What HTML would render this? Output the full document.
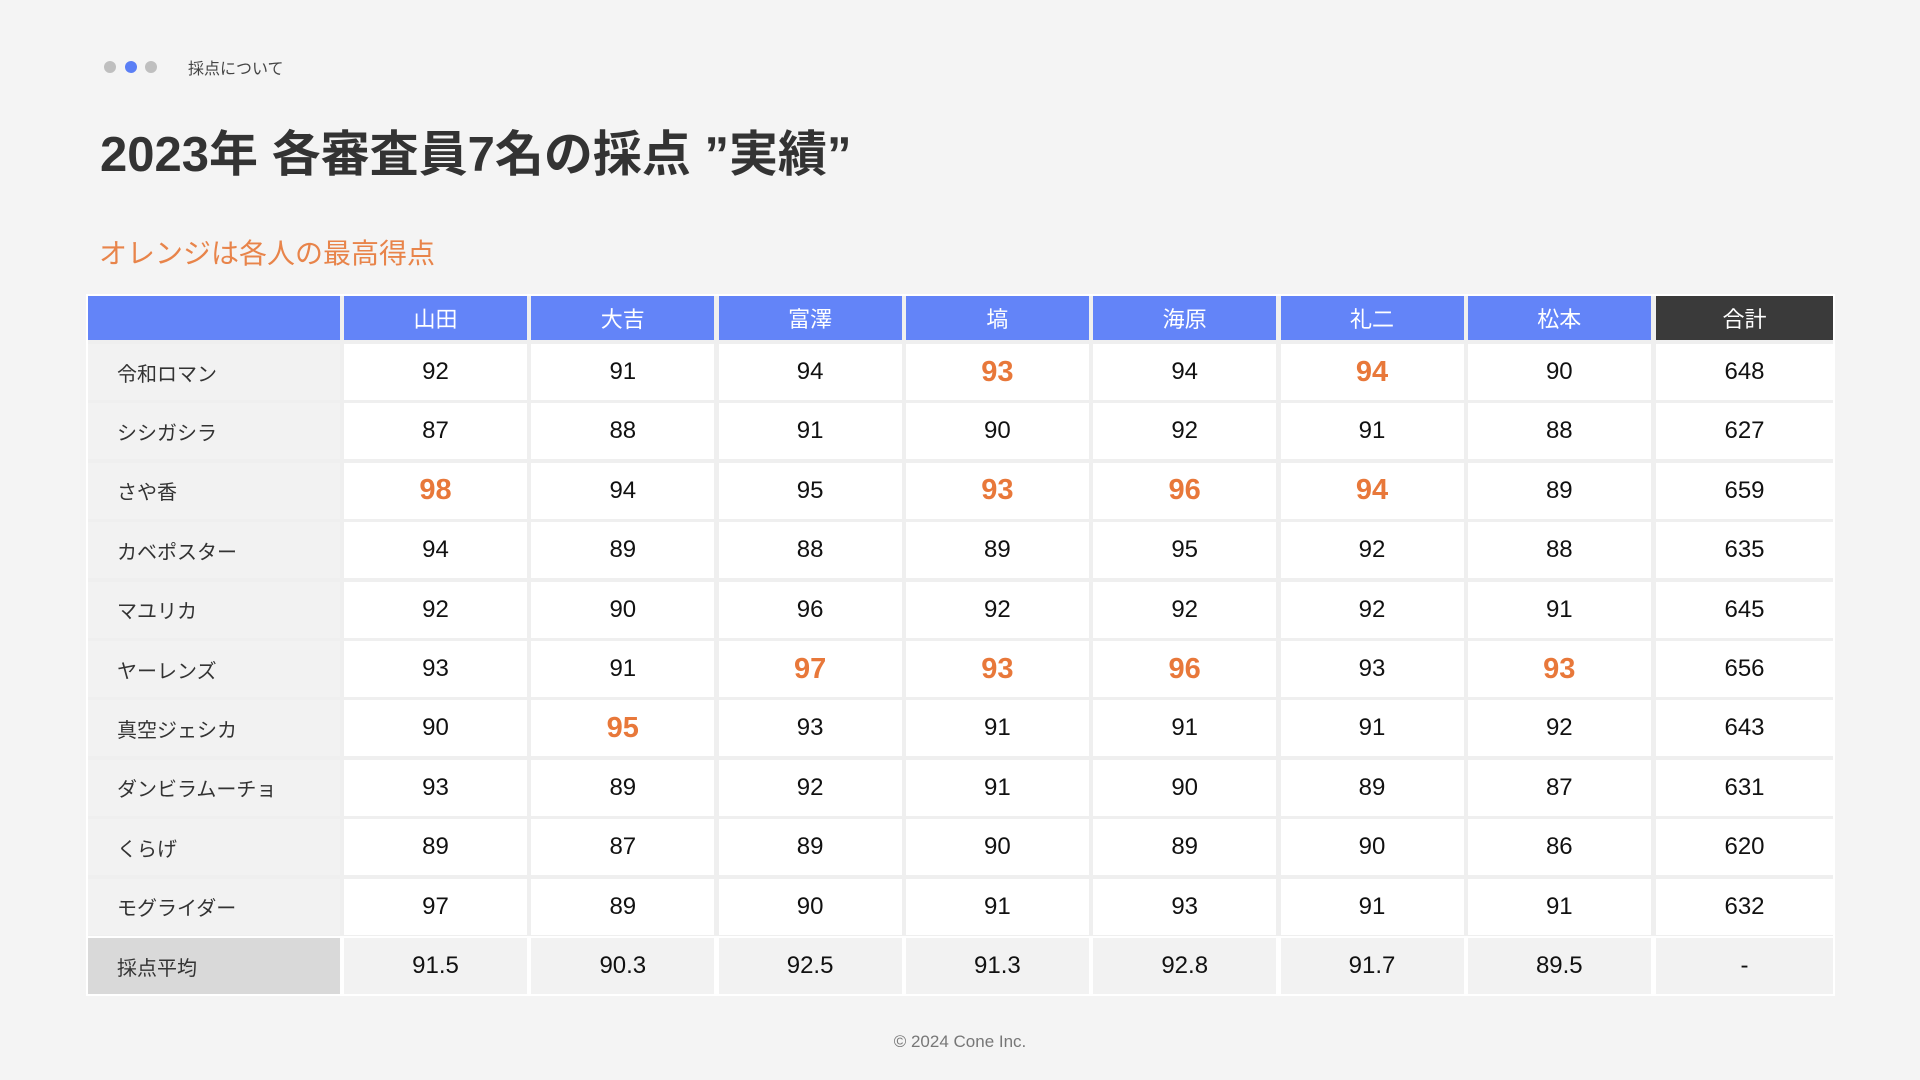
<!DOCTYPE html>
<html lang="ja">
<head>
<meta charset="utf-8">
<style>
  html,body{margin:0;padding:0;}
  body{width:1920px;height:1080px;background:#f4f4f4;position:relative;overflow:hidden;
    font-family:"Liberation Sans","Noto Sans CJK JP",sans-serif;color:#222;}
  .dot{position:absolute;width:12px;height:12px;border-radius:50%;top:61px;background:#bfbfbf;}
  .abs{position:absolute;white-space:nowrap;}
  .cell{position:absolute;display:flex;align-items:center;justify-content:center;box-sizing:border-box;font-size:24px;color:#111;}
  .hdr{background:#6384f8;color:#fff;font-size:22px;}
  .name{justify-content:flex-start;padding-left:29px;background:#f2f2f2;font-size:20px;color:#333;}
  .val{background:#fff;}
  .hi{color:#e8783a;font-weight:bold;font-size:29px;}
</style>
</head>
<body>
<div class="dot" style="left:104px"></div>
<div class="dot" style="left:125px;background:#5b7ff5"></div>
<div class="dot" style="left:145px"></div>
<div class="abs" style="left:188px;top:55px;font-size:16px;color:#444;">採点について</div>
<div class="abs" style="left:100px;top:115px;font-size:49px;font-weight:bold;color:#333;">2023年 各審査員7名の採点 ”実績”</div>
<div class="abs" style="left:99px;top:232px;font-size:28px;color:#e8844a;">オレンジは各人の最高得点</div>
<div id="table" style="position:absolute;left:86px;top:294px;width:1749px;height:702px;background:#efefef;box-shadow:inset 0 0 0 2px #fff;"></div>
<div class="abs" style="left:0;width:1920px;text-align:center;top:1032px;font-size:17px;color:#777;">© 2024 Cone Inc.</div>
<script>
const judges=["山田","大吉","富澤","塙","海原","礼二","松本"];
const teams=["令和ロマン","シシガシラ","さや香","カベポスター","マユリカ","ヤーレンズ","真空ジェシカ","ダンビラムーチョ","くらげ","モグライダー"];
const scores=[
[92,91,94,93,94,94,90],
[87,88,91,90,92,91,88],
[98,94,95,93,96,94,89],
[94,89,88,89,95,92,88],
[92,90,96,92,92,92,91],
[93,91,97,93,96,93,93],
[90,95,93,91,91,91,92],
[93,89,92,91,90,89,87],
[89,87,89,90,89,90,86],
[97,89,90,91,93,91,91]];
const totals=[648,627,659,635,645,656,643,631,620,632];
const averages=["91.5","90.3","92.5","91.3","92.8","91.7","89.5"];

const t=document.getElementById('table');
const X0=88, NAMEW=252, COL0=344, PITCH=187.3, COLW=183, TOTX=1656, TOTW=177;
const HTOP=296, HH=44, RTOP=344, RP=59.4, RH=56;
function cell(x,y,w,h,cls,txt){
  const d=document.createElement('div');
  d.className='cell '+cls;
  d.style.left=(x-86)+'px';d.style.top=(y-294)+'px';d.style.width=w+'px';d.style.height=h+'px';
  d.textContent=txt;t.appendChild(d);return d;
}
let e=cell(X0,HTOP,NAMEW,HH,'hdr','');


judges.forEach((j,i)=>{
  const h=cell(COL0+i*PITCH,HTOP,COLW,HH,'hdr',j);
  
  
});
e=cell(TOTX,HTOP,TOTW,HH,'hdr','合計');
e.style.background='#3a3a3a';


const maxes=judges.map((_,i)=>Math.max(...scores.map(r=>r[i])));
teams.forEach((tm,r)=>{
  const y=RTOP+r*RP;
  const n=cell(X0,y,NAMEW,RH,'name',tm);
  
  
  scores[r].forEach((v,i)=>{
    const c=cell(COL0+i*PITCH,y,COLW,RH,'val'+(v===maxes[i]?' hi':''),v);
    
    
  });
  const tc=cell(TOTX,y,TOTW,RH,'val',totals[r]);
  
  
});
const ay=RTOP+teams.length*RP;
e=cell(86,ay-2,1749,RH+4,'','');
e.style.background='#fff';


e=cell(X0,ay,NAMEW,RH,'name','採点平均');
e.style.background='#d9d9d9';


averages.forEach((v,i)=>{
  const c=cell(COL0+i*PITCH,ay,COLW,RH,'val',v);
  c.style.background='#f2f2f2';
  
  
});
e=cell(TOTX,ay,TOTW,RH,'val','-');
e.style.background='#f2f2f2';


</script>
</body>
</html>
